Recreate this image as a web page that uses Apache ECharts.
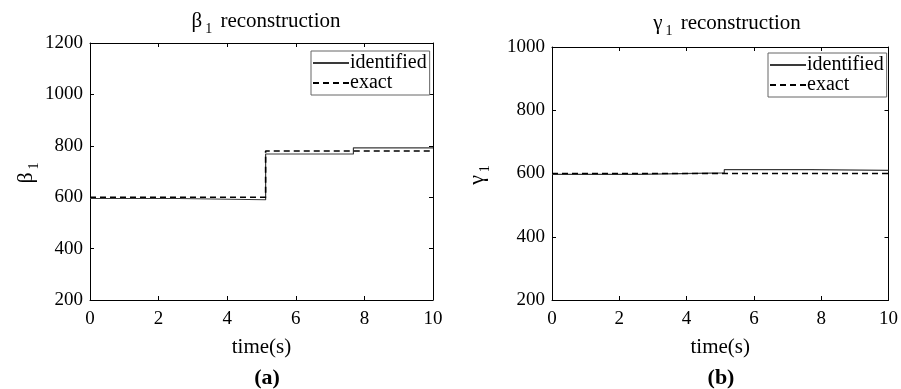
<!DOCTYPE html>
<html>
<head>
<meta charset="utf-8">
<script src="https://cdn.jsdelivr.net/npm/echarts@6/dist/echarts.min.js"></script>
<style>
  html, body { margin: 0; padding: 0; background: #fff; }
  #chart { width: 901px; height: 389px; }
</style>
</head>
<body>
<div id="chart"></div>
<script>
// Piecewise-constant parameter estimates over four time windows
const stepTimes = [0, 2.56, 5.12, 7.68, 10];
const beta1Identified = [595, 590, 768, 792];
const beta1Exact = [600, 600, 780, 780];
const gamma1Identified = [597, 602, 612, 610];
const gamma1Exact = [600, 600, 600, 600];

const xRange = { min: 0, max: 10, interval: 2 };
const beta1Range = { min: 200, max: 1200, interval: 200 };
const gamma1Range = { min: 200, max: 1000, interval: 200 };

const FONT = "'Liberation Serif', 'Times New Roman', serif";

// Turn window values into step-line points (value held until the next breakpoint)
function stepPoints(values) {
  const pts = values.map((v, i) => [stepTimes[i], v]);
  pts.push([stepTimes[stepTimes.length - 1], values[values.length - 1]]);
  return pts;
}

const plainNumber = v => String(v);

const subRich = {
  sub: { fontSize: 14, fontFamily: FONT, color: '#000', padding: [16, 3, 0, 3] }
};

function xAxes(gridIndex) {
  const base = {
    type: 'value', gridIndex, min: xRange.min, max: xRange.max, interval: xRange.interval,
    splitLine: { show: false },
    axisLine: { show: true, onZero: false, lineStyle: { color: '#000', width: 1 } },
    axisTick: { show: true, inside: true, length: 4, lineStyle: { color: '#000' } }
  };
  return [
    Object.assign({}, base, {
      position: 'bottom',
      axisLabel: { color: '#000', fontSize: 19, fontFamily: FONT, margin: 10, formatter: plainNumber },
      name: 'time(s)', nameLocation: 'middle', nameGap: 37,
      nameTextStyle: { color: '#000', fontSize: 21, fontFamily: FONT }
    }),
    Object.assign({}, base, { position: 'top', axisLabel: { show: false } })
  ];
}

function yAxes(gridIndex, range, symbol, nameGap) {
  const base = {
    type: 'value', gridIndex, min: range.min, max: range.max, interval: range.interval,
    splitLine: { show: false },
    axisLine: { show: true, onZero: false, lineStyle: { color: '#000', width: 1 } },
    axisTick: { show: true, inside: true, length: 4, lineStyle: { color: '#000' } }
  };
  return [
    Object.assign({}, base, {
      position: 'left',
      axisLabel: { color: '#000', fontSize: 19, fontFamily: FONT, margin: 7, formatter: plainNumber },
      name: symbol + '{sub|1}', nameLocation: 'middle', nameGap, nameRotate: 90,
      nameTextStyle: { color: '#000', fontSize: 22, fontFamily: FONT, rich: subRich }
    }),
    Object.assign({}, base, { position: 'right', axisLabel: { show: false } })
  ];
}

function seriesPair(xi, yi, identified, exact) {
  return [
    {
      name: 'identified', type: 'line', step: 'end', xAxisIndex: xi, yAxisIndex: yi,
      data: stepPoints(identified), symbol: 'none', silent: true,
      lineStyle: { color: '#3a3a3a', width: 1.2 }, itemStyle: { color: '#3a3a3a' }
    },
    {
      name: 'exact', type: 'line', step: 'end', xAxisIndex: xi, yAxisIndex: yi,
      data: stepPoints(exact), symbol: 'none', silent: true,
      lineStyle: { color: '#000', width: 1.6, type: [6, 4] }, itemStyle: { color: '#000' }
    }
  ];
}

function legendAt(left, top) {
  return {
    left, top, orient: 'vertical', data: ['identified', 'exact'],
    itemWidth: 36, itemHeight: 10, itemGap: 0,
    padding: [2, 3, 2, 1],
    borderColor: '#666', borderWidth: 1, backgroundColor: '#fff',
    selectedMode: false,
    itemStyle: { opacity: 0, borderWidth: 0 },
    textStyle: { color: '#000', fontSize: 20, fontFamily: FONT, padding: [0, 0, 0, -4] }
  };
}

const titleStyle = { color: '#000', fontSize: 21, fontWeight: 'normal', fontFamily: FONT, rich: subRich };
const panelStyle = { color: '#000', fontSize: 22, fontWeight: 'bold', fontFamily: FONT };

const option = {
  backgroundColor: '#fff',
  animation: false,
  title: [
    { text: 'β{sub|1} reconstruction', left: 261, top: 1, textAlign: 'center', textStyle: titleStyle },
    { text: 'γ{sub|1} reconstruction', left: 722, top: 3, textAlign: 'center', textStyle: titleStyle },
    { text: '(a)', left: 262, top: 362, textAlign: 'center', textStyle: panelStyle },
    { text: '(b)', left: 716, top: 362, textAlign: 'center', textStyle: panelStyle }
  ],
  grid: [
    { left: 90, right: 468, top: 43, bottom: 89 },
    { left: 552, right: 8, top: 47, bottom: 89 }
  ],
  xAxis: [...xAxes(0), ...xAxes(1)],
  yAxis: [...yAxes(0, beta1Range, 'β', 48), ...yAxes(1, gamma1Range, 'γ', 60)],
  legend: [legendAt(311, 51), legendAt(768, 53)],
  series: [
    ...seriesPair(0, 0, beta1Identified, beta1Exact),
    ...seriesPair(2, 2, gamma1Identified, gamma1Exact)
  ]
};

const chart = echarts.init(document.getElementById('chart'), null, { renderer: 'canvas' });
chart.setOption(option);
</script>
</body>
</html>
